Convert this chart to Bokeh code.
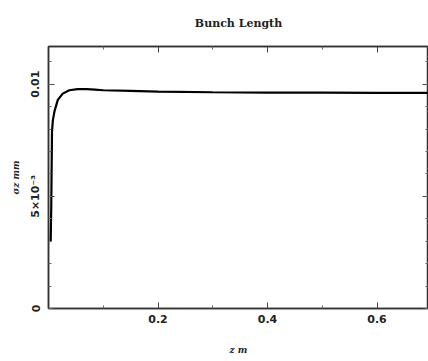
import numpy as np
from bokeh.plotting import figure
from bokeh.models import LinearAxis, FixedTicker, Range1d, CustomJSTickFormatter
from bokeh.embed import file_html
from bokeh.resources import INLINE

# data
z = [0.004, 0.005, 0.0055, 0.0064, 0.008, 0.011, 0.017, 0.026, 0.038, 0.053,
     0.07, 0.085, 0.1, 0.15, 0.2, 0.3, 0.4, 0.5, 0.6, 0.7]
sigma_z = [0.0030, 0.0045, 0.0057, 0.0079, 0.0084, 0.0088, 0.0093, 0.00958, 0.00973, 0.00978,
           0.00978, 0.00976, 0.00973, 0.00970, 0.00967, 0.00964, 0.00962, 0.00962, 0.00961, 0.00961]

x_major = [0.2, 0.4, 0.6]
x_minor = [0.1, 0.3, 0.5]
y_major = [0, 0.005, 0.01]
y_minor = [0.001 * i for i in range(12)]
y_labels = {0: "0", 0.005: "5×10⁻³", 0.01: "0.01"}
title_text = "Bunch Length"

p = figure(width=428, height=361, output_backend="svg", toolbar_location=None,
           x_range=Range1d(0, 0.694), y_range=Range1d(0, 0.01168),
           x_axis_location=None, y_axis_location=None,
           min_border_left=48, min_border_right=0, min_border_top=46, min_border_bottom=53,
           title=title_text)
p.title.align = "center"
p.title.text_font = "DejaVu Serif"
p.title.text_font_size = "11px"
p.title.text_font_style = "bold"
p.title.text_color = "#222222"
p.title.offset = 0
p.title.standoff = 30
p.title.vertical_align = "top"
p.grid.visible = False
p.outline_line_color = "#333333"
p.outline_line_width = 1.5
p.background_fill_color = "white"
p.border_fill_color = "white"

blank = CustomJSTickFormatter(code="return ''")

def style(ax, show_labels):
    ax.axis_line_color = "#333333"
    ax.axis_line_width = 1.5
    ax.major_tick_in = 6
    ax.major_tick_out = 0
    ax.minor_tick_in = 3
    ax.minor_tick_out = 0
    ax.major_tick_line_color = "#444444"
    ax.minor_tick_line_color = "#666666"
    ax.major_label_text_font = "DejaVu Sans"
    ax.major_label_text_font_style = "bold"
    ax.major_label_text_color = "#222222"
    ax.major_label_text_font_size = "11px"
    if not show_labels:
        ax.formatter = blank
        ax.major_label_standoff = 0

xb = LinearAxis(ticker=FixedTicker(ticks=x_major, minor_ticks=x_minor), axis_label="z m")
style(xb, True)
xb.major_label_standoff = 6
xb.axis_label_standoff = 19
xb.axis_label_text_font = "DejaVu Serif"
xb.axis_label_text_font_style = "bold italic"
xb.axis_label_text_font_size = "9px"
xb.axis_label_text_color = "#222222"
p.add_layout(xb, "below")

xt = LinearAxis(ticker=FixedTicker(ticks=x_major, minor_ticks=x_minor))
style(xt, False)
p.add_layout(xt, "above")

yl = LinearAxis(ticker=FixedTicker(ticks=y_major, minor_ticks=y_minor), axis_label="σz mm")
style(yl, True)
yl.major_label_overrides = y_labels
yl.major_label_orientation = "vertical"
yl.major_label_standoff = 6
yl.axis_label_standoff = 6
yl.axis_label_text_font = "DejaVu Serif"
yl.axis_label_text_font_style = "bold italic"
yl.axis_label_text_font_size = "9px"
yl.axis_label_text_color = "#222222"
p.add_layout(yl, "left")

yr = LinearAxis(ticker=FixedTicker(ticks=y_major, minor_ticks=y_minor))
style(yr, False)
p.add_layout(yr, "right")

p.line(z, sigma_z, line_color="black", line_width=2.2)

open("out.html", "w").write(file_html(p, INLINE))
